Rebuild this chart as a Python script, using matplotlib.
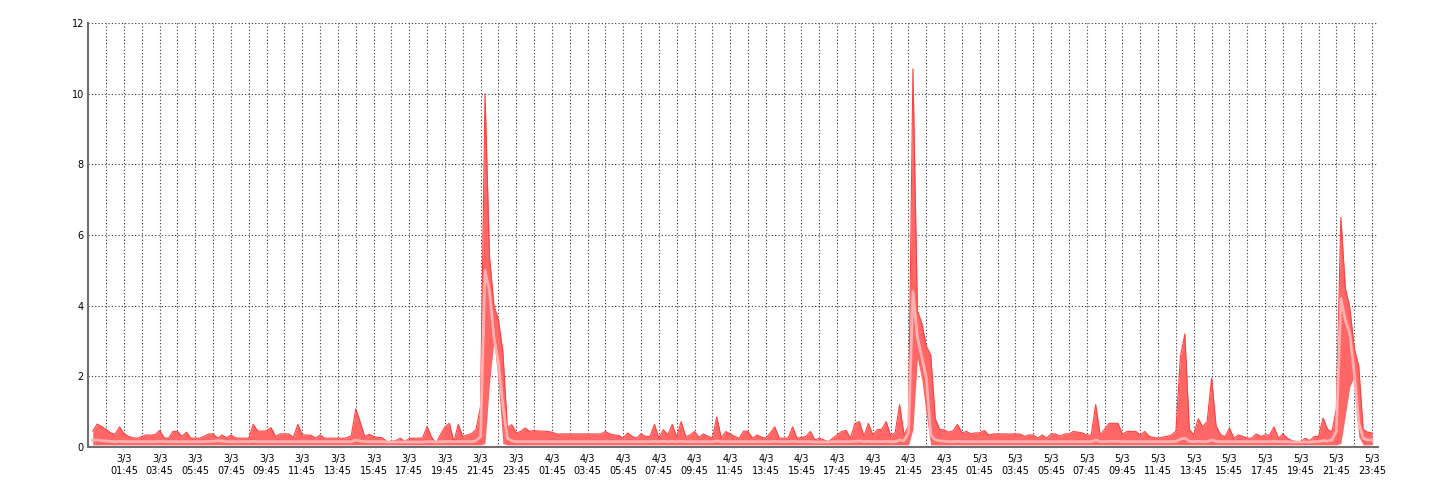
import numpy as np
import pandas as pd
import matplotlib
matplotlib.use("Agg")
import matplotlib.pyplot as plt
import matplotlib.dates as mdates

# 15 minute samples, 3/3 00:00 .. 5/3 23:45
start = "2020-03-03 00:00"
n_points = 288

# upper edge of the band (max), one row per hour
upper = [
    0.45, 0.65, 0.58, 0.5,   0.4, 0.36, 0.57, 0.38,   0.3, 0.26, 0.25, 0.3,    0.34, 0.34, 0.35, 0.47,
    0.26, 0.25, 0.44, 0.44,  0.3, 0.42, 0.25, 0.25,   0.25, 0.3, 0.37, 0.37,   0.25, 0.34, 0.26, 0.34,
    0.26, 0.25, 0.25, 0.25,  0.64, 0.45, 0.45, 0.46,  0.55, 0.3, 0.37, 0.37,   0.37, 0.27, 0.64, 0.34,
    0.34, 0.33, 0.25, 0.34,  0.25, 0.25, 0.25, 0.25,  0.25, 0.26, 0.32, 1.08,  0.7, 0.3, 0.36, 0.3,
    0.27, 0.26, 0.15, 0.16,  0.18, 0.25, 0.15, 0.24,  0.25, 0.25, 0.26, 0.58,  0.28, 0.1, 0.35, 0.57,
    0.67, 0.15, 0.64, 0.3,   0.34, 0.38, 0.5, 1.15,   10.0, 5.4, 4.0, 3.6,     2.7, 0.55, 0.63, 0.4,
    0.44, 0.54, 0.44, 0.47,  0.45, 0.45, 0.44, 0.42,  0.37, 0.37, 0.37, 0.37,  0.37, 0.37, 0.37, 0.37,
    0.37, 0.37, 0.37, 0.44,  0.37, 0.34, 0.33, 0.25,  0.4, 0.3, 0.25, 0.37,    0.3, 0.3, 0.64, 0.25,
    0.49, 0.34, 0.64, 0.28,  0.72, 0.3, 0.34, 0.44,   0.27, 0.37, 0.3, 0.25,   0.85, 0.25, 0.44, 0.37,
    0.3, 0.25, 0.45, 0.44,   0.25, 0.34, 0.28, 0.25,  0.4, 0.57, 0.25, 0.25,   0.25, 0.57, 0.25, 0.27,
    0.3, 0.44, 0.2, 0.25,    0.2, 0.15, 0.25, 0.34,   0.44, 0.47, 0.25, 0.67,  0.72, 0.3, 0.67, 0.34,
    0.49, 0.5, 0.72, 0.32,   0.4, 1.2, 0.34, 0.6,     10.7, 3.85, 3.5, 2.85,   2.6, 0.8, 0.5, 0.48,
    0.42, 0.46, 0.64, 0.4,   0.44, 0.37, 0.4, 0.4,    0.47, 0.34, 0.37, 0.37,  0.37, 0.37, 0.37, 0.37,
    0.37, 0.3, 0.34, 0.34,   0.25, 0.34, 0.25, 0.37,  0.37, 0.3, 0.37, 0.37,   0.44, 0.42, 0.4, 0.34,
    0.34, 1.2, 0.34, 0.5,    0.67, 0.67, 0.67, 0.36,  0.44, 0.44, 0.44, 0.34,  0.44, 0.3, 0.27, 0.25,
    0.28, 0.3, 0.34, 0.45,   2.55, 3.2, 0.5, 0.34,    0.8, 0.57, 0.72, 1.94,   0.6, 0.35, 0.29, 0.53,
    0.25, 0.34, 0.3, 0.25,   0.25, 0.37, 0.3, 0.34,   0.34, 0.57, 0.25, 0.37,  0.25, 0.18, 0.15, 0.15,
    0.25, 0.18, 0.3, 0.3,    0.82, 0.5, 0.43, 1.1,    6.5, 4.5, 3.95, 2.8,     2.3, 0.5, 0.42, 0.4,
]

# average line
avg = [
    0.2, 0.2, 0.18, 0.17,    0.16, 0.15, 0.16, 0.15,  0.15, 0.15, 0.15, 0.15,  0.15, 0.15, 0.15, 0.16,
    0.15, 0.15, 0.15, 0.15,  0.15, 0.15, 0.15, 0.15,  0.15, 0.15, 0.16, 0.16,  0.18, 0.17, 0.15, 0.15,
    0.15, 0.15, 0.15, 0.15,  0.16, 0.15, 0.15, 0.15,  0.15, 0.15, 0.15, 0.15,  0.15, 0.15, 0.15, 0.15,
    0.15, 0.15, 0.15, 0.15,  0.15, 0.15, 0.15, 0.15,  0.15, 0.15, 0.15, 0.2,   0.17, 0.15, 0.15, 0.15,
    0.15, 0.15, 0.14, 0.14,  0.14, 0.14, 0.14, 0.14,  0.14, 0.14, 0.14, 0.15,  0.15, 0.14, 0.15, 0.15,
    0.16, 0.15, 0.15, 0.15,  0.15, 0.15, 0.18, 0.3,   5.0, 4.4, 3.1, 2.4,      1.2, 0.25, 0.18, 0.15,
    0.15, 0.15, 0.15, 0.15,  0.15, 0.15, 0.15, 0.15,  0.15, 0.15, 0.15, 0.15,  0.15, 0.15, 0.15, 0.15,
    0.15, 0.15, 0.15, 0.15,  0.15, 0.15, 0.15, 0.15,  0.15, 0.15, 0.15, 0.15,  0.15, 0.15, 0.16, 0.15,
    0.16, 0.15, 0.16, 0.15,  0.16, 0.15, 0.15, 0.15,  0.15, 0.15, 0.15, 0.15,  0.17, 0.15, 0.15, 0.15,
    0.15, 0.15, 0.15, 0.15,  0.15, 0.15, 0.15, 0.15,  0.15, 0.16, 0.15, 0.15,  0.15, 0.16, 0.15, 0.15,
    0.15, 0.15, 0.14, 0.14,  0.14, 0.14, 0.15, 0.15,  0.15, 0.15, 0.15, 0.16,  0.17, 0.15, 0.16, 0.15,
    0.15, 0.15, 0.16, 0.15,  0.15, 0.2, 0.18, 0.4,    4.4, 3.1, 2.55, 1.95,    0.35, 0.2, 0.18, 0.16,
    0.15, 0.15, 0.16, 0.15,  0.15, 0.15, 0.15, 0.15,  0.15, 0.15, 0.15, 0.15,  0.15, 0.15, 0.15, 0.15,
    0.15, 0.15, 0.15, 0.15,  0.15, 0.15, 0.15, 0.15,  0.15, 0.15, 0.15, 0.15,  0.15, 0.15, 0.15, 0.15,
    0.15, 0.2, 0.15, 0.15,   0.16, 0.16, 0.16, 0.15,  0.15, 0.15, 0.15, 0.15,  0.15, 0.15, 0.15, 0.15,
    0.15, 0.15, 0.15, 0.16,  0.22, 0.25, 0.16, 0.15,  0.16, 0.15, 0.15, 0.2,   0.16, 0.15, 0.15, 0.15,
    0.15, 0.15, 0.15, 0.15,  0.15, 0.15, 0.15, 0.15,  0.15, 0.16, 0.15, 0.15,  0.15, 0.14, 0.14, 0.14,
    0.14, 0.14, 0.15, 0.15,  0.18, 0.17, 0.2, 0.45,   4.2, 3.6, 3.2, 2.1,      0.7, 0.25, 0.2, 0.2,
]

# lower edge of the band (min)
lower = [
    0.06, 0.06, 0.06, 0.06,  0.06, 0.06, 0.06, 0.06,  0.06, 0.06, 0.06, 0.06,  0.06, 0.06, 0.06, 0.06,
    0.06, 0.06, 0.06, 0.06,  0.06, 0.06, 0.06, 0.06,  0.06, 0.06, 0.06, 0.06,  0.06, 0.06, 0.06, 0.06,
    0.06, 0.06, 0.06, 0.06,  0.06, 0.06, 0.06, 0.06,  0.06, 0.06, 0.06, 0.06,  0.06, 0.06, 0.06, 0.06,
    0.06, 0.06, 0.06, 0.06,  0.06, 0.06, 0.06, 0.06,  0.06, 0.06, 0.06, 0.06,  0.06, 0.06, 0.06, 0.06,
    0.06, 0.06, 0.06, 0.06,  0.06, 0.06, 0.06, 0.06,  0.06, 0.06, 0.06, 0.06,  0.06, 0.06, 0.06, 0.06,
    0.06, 0.06, 0.06, 0.06,  0.06, 0.06, 0.06, 0.06,  0.1, 1.8, 3.0, 1.8,      0.1, 0.06, 0.06, 0.06,
    0.06, 0.06, 0.06, 0.06,  0.06, 0.06, 0.06, 0.06,  0.06, 0.06, 0.06, 0.06,  0.06, 0.06, 0.06, 0.06,
    0.06, 0.06, 0.06, 0.06,  0.06, 0.06, 0.06, 0.06,  0.06, 0.06, 0.06, 0.06,  0.06, 0.06, 0.06, 0.06,
    0.06, 0.06, 0.06, 0.06,  0.06, 0.06, 0.06, 0.06,  0.06, 0.06, 0.06, 0.06,  0.06, 0.06, 0.06, 0.06,
    0.06, 0.06, 0.06, 0.06,  0.06, 0.06, 0.06, 0.06,  0.06, 0.06, 0.06, 0.06,  0.06, 0.06, 0.06, 0.06,
    0.06, 0.06, 0.06, 0.06,  0.06, 0.06, 0.06, 0.06,  0.06, 0.06, 0.06, 0.06,  0.06, 0.06, 0.06, 0.06,
    0.06, 0.06, 0.06, 0.06,  0.06, 0.06, 0.06, 0.06,  0.5, 2.5, 1.9, 0.9,      0.06, 0.06, 0.06, 0.06,
    0.06, 0.06, 0.06, 0.06,  0.06, 0.06, 0.06, 0.06,  0.06, 0.06, 0.06, 0.06,  0.06, 0.06, 0.06, 0.06,
    0.06, 0.06, 0.06, 0.06,  0.06, 0.06, 0.06, 0.06,  0.06, 0.06, 0.06, 0.06,  0.06, 0.06, 0.06, 0.06,
    0.06, 0.06, 0.06, 0.06,  0.06, 0.06, 0.06, 0.06,  0.06, 0.06, 0.06, 0.06,  0.06, 0.06, 0.06, 0.06,
    0.06, 0.06, 0.06, 0.06,  0.06, 0.06, 0.06, 0.06,  0.06, 0.06, 0.06, 0.06,  0.06, 0.06, 0.06, 0.06,
    0.06, 0.06, 0.06, 0.06,  0.06, 0.06, 0.06, 0.06,  0.06, 0.06, 0.06, 0.06,  0.06, 0.06, 0.06, 0.06,
    0.06, 0.06, 0.06, 0.06,  0.06, 0.06, 0.06, 0.06,  0.1, 0.9, 1.7, 2.0,      0.3, 0.06, 0.06, 0.06,
]

y_ticks = [0, 2, 4, 6, 8, 10, 12]


def main():
    times = pd.date_range(start, periods=n_points, freq="15min")
    x = mdates.date2num(times.to_pydatetime())

    fig = plt.figure(figsize=(14.4, 5), dpi=100)
    ax = fig.add_axes([88 / 1440, 53 / 500, 1290 / 1440, 424 / 500])

    ax.fill_between(x, lower, upper, color="#FF6666", lw=0, zorder=2)
    ax.plot(x, upper, color="#FF4040", lw=0.8, zorder=3)
    ax.plot(x, avg, color="#FFB0B0", lw=2.0, zorder=4)

    # grid every hour at :45, labels every second hour
    grid_times = pd.date_range("2020-03-03 00:45", periods=72, freq="1h")
    labels = []
    for i, t in enumerate(grid_times):
        if i % 2 == 1:
            labels.append("%d/%d\n%s" % (t.day, t.month, t.strftime("%H:%M")))
        else:
            labels.append("")
    ax.set_xticks(mdates.date2num(grid_times.to_pydatetime()))
    ax.set_xticklabels(labels)

    ax.set_xlim(x[0] - 16 / 1440, x[-1] + 20 / 1440)
    ax.set_ylim(0, 12)
    ax.set_yticks(y_ticks)
    ax.set_yticklabels([str(v) for v in y_ticks])

    ax.set_axisbelow(True)
    ax.grid(True, color="#333333", linestyle=(0, (1, 2)), linewidth=0.8)

    for side in ["top", "right"]:
        ax.spines[side].set_visible(False)
    for side in ["left", "bottom"]:
        ax.spines[side].set_color("#707070")
        ax.spines[side].set_linewidth(1.5)
        ax.spines[side].set_zorder(5)

    ax.tick_params(axis="both", length=0, labelsize=7, colors="black")
    ax.tick_params(axis="x", pad=5)
    ax.tick_params(axis="y", pad=3)

    fig.savefig("out.png", dpi=100)


if __name__ == "__main__":
    main()
